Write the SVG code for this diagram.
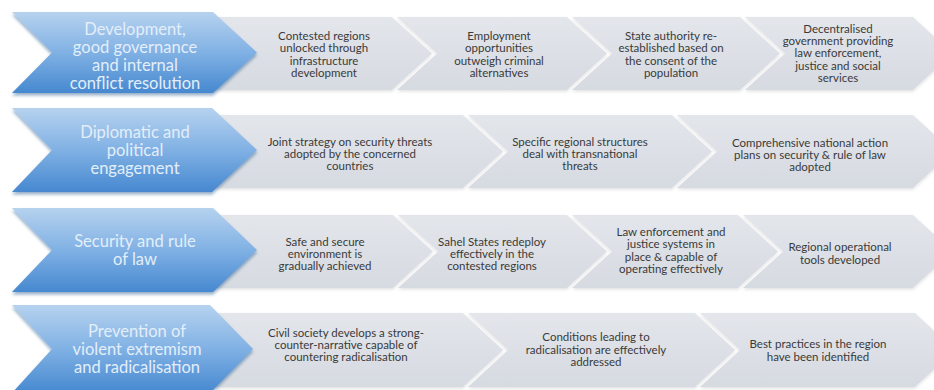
<svg xmlns="http://www.w3.org/2000/svg" width="934" height="390" viewBox="0 0 934 390">
<style>
.blue{fill:url(#blueGrad);filter:url(#shadow)}
.grey{fill:url(#greyGrad);filter:url(#shadowL)}
.bt{font-family:Lato,"Liberation Sans",sans-serif;font-size:16.5px;fill:#e3eef9;text-anchor:middle}
.gt{font-family:Lato,"Liberation Sans",sans-serif;font-size:11.5px;fill:#3a3a3a;text-anchor:middle}
</style>
<defs>
<linearGradient id="blueGrad" x1="0" y1="0" x2="0" y2="1">
<stop offset="0" stop-color="#b6d2ef"/>
<stop offset="0.5" stop-color="#80b1e4"/>
<stop offset="1" stop-color="#4688d0"/>
</linearGradient>
<linearGradient id="greyGrad" x1="0" y1="0" x2="0" y2="1">
<stop offset="0" stop-color="#e3e6eb"/>
<stop offset="1" stop-color="#d6dae1"/>
</linearGradient>
<filter id="shadow" x="-5%" y="-10%" width="110%" height="125%">
<feDropShadow dx="0" dy="2.5" stdDeviation="1.5" flood-color="#1d4f86" flood-opacity="0.45"/>
</filter>
<filter id="shadowL" x="-5%" y="-10%" width="110%" height="125%">
<feDropShadow dx="0" dy="1.5" stdDeviation="1.5" flood-color="#000" flood-opacity="0.12"/>
</filter>
</defs>
<rect width="934" height="390" fill="#ffffff"/>

<!-- Row 1 -->
<g id="r1-s4"><polygon class="grey" points="745,17 913,17 953,53.5 913,90 745,90 785,53.5"/>
<text class="gt"><tspan x="838" y="32.5">Decentralised</tspan><tspan x="838" y="44.8">government providing</tspan><tspan x="838" y="57.2">law enforcement,</tspan><tspan x="838" y="69.6">justice and social</tspan><tspan x="838" y="82">services</tspan></text></g>
<g id="r1-s3"><polygon class="grey" points="572,17 740,17 780,53.5 740,90 572,90 612,53.5"/>
<text class="gt"><tspan x="671" y="40">State authority re-</tspan><tspan x="671" y="52.3">established based on</tspan><tspan x="671" y="64.6">the consent of the</tspan><tspan x="671" y="77">population</tspan></text></g>
<g id="r1-s2"><polygon class="grey" points="397,17 567,17 607,53.5 567,90 397,90 437,53.5"/>
<text class="gt"><tspan x="499" y="40">Employment</tspan><tspan x="499" y="52.3">opportunities</tspan><tspan x="499" y="64.6">outweigh criminal</tspan><tspan x="499" y="77">alternatives</tspan></text></g>
<g id="r1-s1"><polygon class="grey" points="215,17 392,17 432,53.5 392,90 215,90"/>
<text class="gt"><tspan x="324" y="40">Contested regions</tspan><tspan x="324" y="52.3">unlocked through</tspan><tspan x="324" y="64.6">infrastructure</tspan><tspan x="324" y="77">development</tspan></text></g>
<g id="r1-head"><polygon class="blue" points="12,12 213,12 257,52.5 213,93 12,93 52,52.5"/>
<text class="bt"><tspan x="135" y="34.5">Development,</tspan><tspan x="135" y="52.5">good governance</tspan><tspan x="135" y="70.5">and internal</tspan><tspan x="135" y="88.5">conflict resolution</tspan></text></g>

<!-- Row 2 -->
<g id="r2-s3"><polygon class="grey" points="677,115 913,115 953,151.5 913,188 677,188 717,151.5"/>
<text class="gt"><tspan x="810" y="146.5">Comprehensive national action</tspan><tspan x="810" y="158.5">plans on security &amp; rule of law</tspan><tspan x="810" y="170.5">adopted</tspan></text></g>
<g id="r2-s2"><polygon class="grey" points="468,115 672,115 712,151.5 672,188 468,188 508,151.5"/>
<text class="gt"><tspan x="580" y="146">Specific regional structures</tspan><tspan x="580" y="158">deal with transnational</tspan><tspan x="580" y="170">threats</tspan></text></g>
<g id="r2-s1"><polygon class="grey" points="215,115 463,115 503,151.5 463,188 215,188"/>
<text class="gt"><tspan x="350" y="146">Joint strategy on security threats</tspan><tspan x="350" y="158">adopted by the concerned</tspan><tspan x="350" y="170">countries</tspan></text></g>
<g id="r2-head"><polygon class="blue" points="12,108 212,108 257,150 212,192 12,192 52,150"/>
<text class="bt"><tspan x="135" y="138">Diplomatic and</tspan><tspan x="135" y="156">political</tspan><tspan x="135" y="174">engagement</tspan></text></g>

<!-- Row 3 -->
<g id="r3-s4"><polygon class="grey" points="743,215 913,215 953,251.5 913,288 743,288 783,251.5"/>
<text class="gt"><tspan x="840" y="251">Regional operational</tspan><tspan x="840" y="263.5">tools developed</tspan></text></g>
<g id="r3-s3"><polygon class="grey" points="572,215 738,215 778,251.5 738,288 572,288 612,251.5"/>
<text class="gt"><tspan x="671" y="236">Law enforcement and</tspan><tspan x="671" y="248.3">justice systems in</tspan><tspan x="671" y="260.6">place &amp; capable of</tspan><tspan x="671" y="273">operating effectively</tspan></text></g>
<g id="r3-s2"><polygon class="grey" points="398,215 567,215 607,251.5 567,288 398,288 438,251.5"/>
<text class="gt"><tspan x="492" y="245.5">Sahel States redeploy</tspan><tspan x="492" y="257.5">effectively in the</tspan><tspan x="492" y="269.5">contested regions</tspan></text></g>
<g id="r3-s1"><polygon class="grey" points="215,215 393,215 433,251.5 393,288 215,288"/>
<text class="gt"><tspan x="325" y="245.5">Safe and secure</tspan><tspan x="325" y="257.5">environment is</tspan><tspan x="325" y="269.5">gradually achieved</tspan></text></g>
<g id="r3-head"><polygon class="blue" points="12,208 213,208 257,250 213,292 12,292 52,250"/>
<text class="bt"><tspan x="135" y="247">Security and rule</tspan><tspan x="135" y="265">of law</tspan></text></g>

<!-- Row 4 -->
<g id="r4-s3"><polygon class="grey" points="700,313 915,313 955,350 915,387 700,387 740,350"/>
<text class="gt"><tspan x="818" y="348">Best practices in the region</tspan><tspan x="818" y="360.5">have been identified</tspan></text></g>
<g id="r4-s2"><polygon class="grey" points="468,313 695,313 735,350 695,387 468,387 508,350"/>
<text class="gt"><tspan x="596" y="341">Conditions leading to</tspan><tspan x="596" y="353.5">radicalisation are effectively</tspan><tspan x="596" y="366">addressed</tspan></text></g>
<g id="r4-s1"><polygon class="grey" points="215,313 463,313 503,350 463,387 215,387"/>
<text class="gt"><tspan x="346" y="337">Civil society develops a strong-</tspan><tspan x="346" y="349">counter-narrative capable of</tspan><tspan x="346" y="361">countering radicalisation</tspan></text></g>
<g id="r4-head"><polygon class="blue" points="12,305 210,305 253,349 210,393 12,393 52,349"/>
<text class="bt"><tspan x="137" y="337">Prevention of</tspan><tspan x="137" y="355">violent extremism</tspan><tspan x="137" y="373">and radicalisation</tspan></text></g>
</svg>
